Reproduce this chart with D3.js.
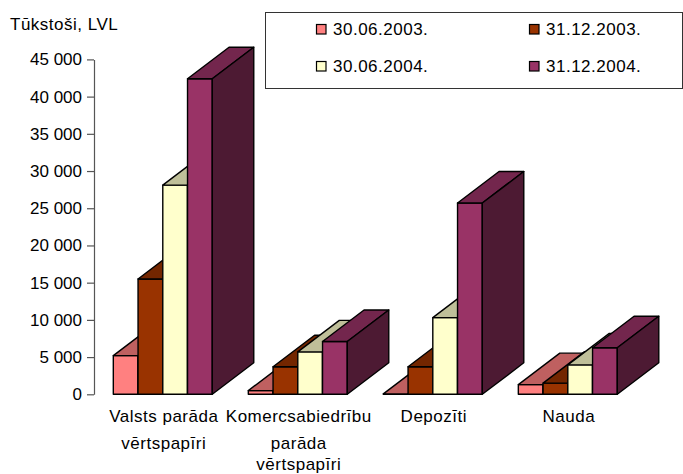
<!DOCTYPE html>
<html>
<head>
<meta charset="utf-8">
<script src="https://cdn.jsdelivr.net/npm/d3@7"></script>
<style>
  body { margin: 0; background: #fff; }
  text { font-family: "Liberation Sans", Arial, sans-serif; font-size: 17px; fill: #000; letter-spacing: 0.5px; }
  .tick text { letter-spacing: 0; }
</style>
</head>
<body>
<svg id="chart" width="683" height="474"></svg>
<script>
/////////////////////
// Data
/////////////////////

var categories = ["Valsts parāda vērtspapīri", "Komercsabiedrību parāda vērtspapīri", "Depozīti", "Nauda"];
var categoryLines = [["Valsts parāda", "vērtspapīri"], ["Komercsabiedrību", "parāda", "vērtspapīri"], ["Depozīti"], ["Nauda"]];
var seriesNames = ["30.06.2003.", "31.12.2003.", "30.06.2004.", "31.12.2004."];
var jun2003 = [5200, 500, 50, 1300];
var dec2003 = [15500, 3700, 3700, 1500];
var jun2004 = [28100, 5700, 10300, 3950];
var dec2004 = [42400, 7100, 25700, 6250];
var seriesValues = [jun2003, dec2003, jun2004, dec2004];
var yTicks = [0, 5000, 10000, 15000, 20000, 25000, 30000, 35000, 40000, 45000];

var fronts = ["#ff8080", "#993300", "#ffffcc", "#993366"];

/////////////////////
// Scales
/////////////////////

var svg = d3.select("#chart");

var y = d3.scaleLinear()
    .domain([0, 45000])
    .range([394.3, 59.4]);

var x0 = d3.scaleBand()
    .domain(categories)
    .range([94, 636.6])
    .paddingInner(0.267)
    .paddingOuter(0.143);

var x1 = d3.scaleBand()
    .domain(seriesNames)
    .range([0, x0.bandwidth()]);

var dx = 41.5, dy = -31.5;

function shade(c, k) {
    var rgb = d3.rgb(c);
    return d3.rgb(rgb.r * k, rgb.g * k, rgb.b * k).formatHex();
}

/////////////////////
// Y axis
/////////////////////

var axis = svg.append("g")
    .attr("transform", "translate(94,0)")
    .call(d3.axisLeft(y)
        .tickValues(yTicks)
        .tickSize(7)
        .tickSizeOuter(0)
        .tickPadding(5)
        .tickFormat(function(d) { return d3.format(",")(d).replace(/,/g, " "); }));
axis.select(".domain").attr("stroke", "#555").attr("stroke-width", 1.2);
axis.selectAll(".tick line").attr("stroke", "#555").attr("stroke-width", 1.2);
axis.selectAll(".tick text")
    .attr("font-size", 17)
    .attr("font-family", "Liberation Sans, Arial, sans-serif")
    .attr("fill", "#000");

svg.append("text")
    .attr("x", 10)
    .attr("y", 30)
    .text("Tūkstoši, LVL");

/////////////////////
// 3D bars
/////////////////////

var bars = [];
categories.forEach(function(cat, ci) {
    seriesNames.forEach(function(s, si) {
        bars.push({cat: cat, series: s, si: si, value: seriesValues[si][ci]});
    });
});

var g = svg.append("g");

bars.forEach(function(d) {
    var xl = x0(d.cat) + x1(d.series);
    var xr = xl + x1.bandwidth();
    var yt = y(d.value);
    var yb = y(0);
    var c = fronts[d.si];
    var bar = g.append("g");

    bar.append("polygon")
        .attr("points", [[xl, yb], [xr, yb], [xr, yt], [xl, yt]].join(" "))
        .attr("fill", c);
    bar.append("polygon")
        .attr("points", [[xl, yt], [xr, yt], [xr + dx, yt + dy], [xl + dx, yt + dy]].join(" "))
        .attr("fill", shade(c, 0.75));
    bar.append("polygon")
        .attr("points", [[xr, yb], [xr + dx, yb + dy], [xr + dx, yt + dy], [xr, yt]].join(" "))
        .attr("fill", shade(c, 0.5));

    bar.selectAll("polygon")
        .attr("stroke", "#000")
        .attr("stroke-width", 1.4)
        .attr("stroke-linejoin", "round");
});

/////////////////////
// Category labels
/////////////////////

var lineY = [421.5, 448.5, 470];

categories.forEach(function(cat, ci) {
    var cx = x0(cat) + x0.bandwidth() / 2 + 1;
    categoryLines[ci].forEach(function(line, li) {
        svg.append("text")
            .attr("x", cx)
            .attr("y", lineY[li])
            .attr("text-anchor", "middle")
            .text(line);
    });
});

/////////////////////
// Legend
/////////////////////

svg.append("rect")
    .attr("x", 265.5)
    .attr("y", 12.5)
    .attr("width", 417)
    .attr("height", 76)
    .attr("fill", "#fff")
    .attr("stroke", "#333")
    .attr("stroke-width", 1);

var legend = svg.selectAll(".legend")
    .data(seriesNames)
  .enter().append("g")
    .attr("class", "legend")
    .attr("transform", function(d, i) {
        return "translate(" + (i % 2 ? 529 : 316) + "," + (i < 2 ? 24 : 61) + ")";
    });
legend.append("rect")
    .attr("x", 0.5)
    .attr("y", 0.5)
    .attr("width", 9.5)
    .attr("height", 9.5)
    .attr("stroke", "#000")
    .attr("stroke-width", 1.2)
    .style("fill", function(d, i) { return fronts[i]; });
legend.append("text")
    .attr("x", 17)
    .attr("y", 10.5)
    .text(function(d) { return d; });
</script>
</body>
</html>
